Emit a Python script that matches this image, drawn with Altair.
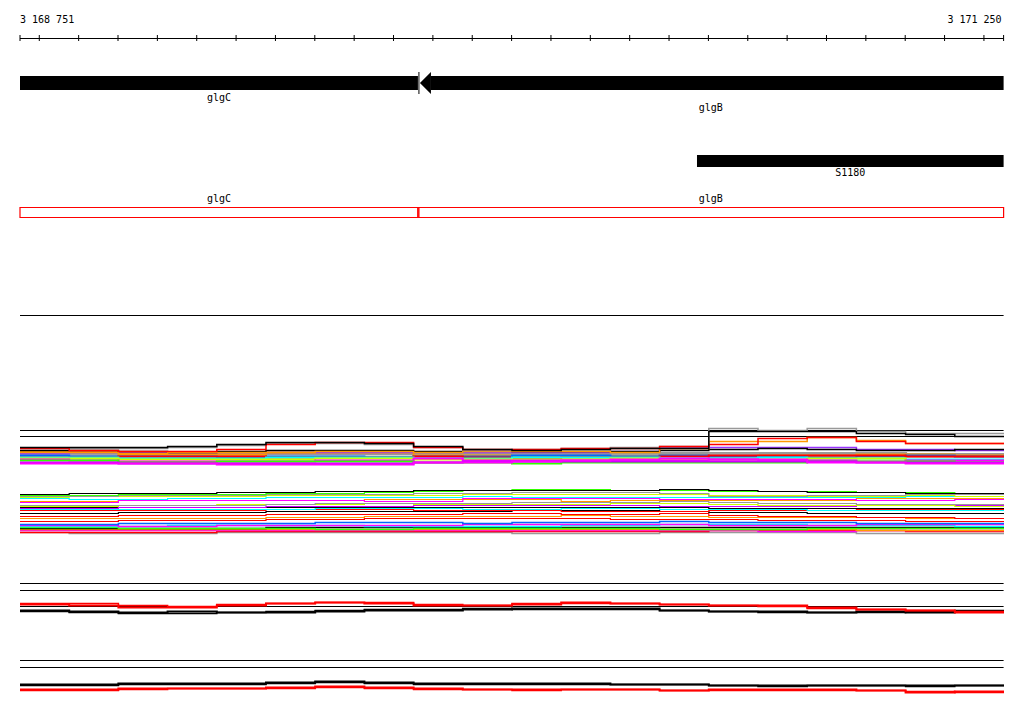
import altair as alt
import pandas as pd

# ---------------- coordinates / ruler ----------------
START = 3168751
END = 3171250
BIN = 125
bin_edges = [START + BIN * i for i in range(21)]
ruler_ticks = [START] + list(range(3168800, 3171201, 100)) + [END]
ruler_label_pos = [START, END]
ruler_labels = ["3 168 751", "3 171 250"]

# ---------------- annotation tracks ----------------
gene_names = ["glgC", "glgB"]
gene_starts = [3168751, 3169762]
gene_ends = [3169762, 3171250]

feature_names = ["S1180"]
feature_starts = [3170471]
feature_ends = [3171250]

box_names = ["glgC", "glgB"]
box_starts = [3168751, 3169762]
box_ends = [3169762, 3171250]

# ---------------- signal tracks (per 125 bp bin) ----------------
# panel 1, upper group
b1_black_top = [23, 23, 23, 24, 26, 28, 28, 27, 24, 21, 20, 21, 22, 22, 39, 39, 39, 37, 36, 34]
b1_gray_top = [22, 22, 22, 23, 25, 27, 27, 26, 23, 20, 21, 22, 23, 24, 42, 40, 42, 39, 37, 37]
b1_red_top = [22, 20, 19, 19, 21, 26, 28, 28, 23, 21, 21, 22, 22, 24, 26, 32, 33, 29, 27, 27]
b1_orange_top = [18, 18, 17, 18, 18, 18, 19, 19, 18, 19, 19, 19, 18, 22, 29, 29, 33, 30, 27, 27]
b1_black_mid = [20, 20, 19, 18, 19, 20, 20, 20, 19, 20, 19, 19, 19, 20, 21, 22, 21, 20, 20, 21]
b1_violet = [17, 18, 18, 18, 18, 18, 18, 18, 18, 18, 18, 18, 19, 23, 23, 23, 23, 21, 21, 20]
b1_gray_band = [16, 16, 17, 17, 17, 17, 17, 17, 16, 17, 17, 17, 17, 17, 17, 17, 17, 17, 16, 16]
b1_gray_low = [14, 15, 15, 15, 15, 14, 14, 14, 15, 15, 15, 14, 15, 15, 16, 15, 15, 15, 14, 14]
b1_blue = [15, 14, 14, 14, 13, 14, 14, 13, 14, 14, 15, 15, 14, 15, 14, 14, 13, 14, 15, 14]
b1_orange_mid = [19, 19, 16, 16, 16, 18, 18, 18, 15, 15, 14, 14, 14, 15, 14, 15, 15, 16, 16, 15]
b1_red_mid = [13, 13, 14, 14, 14, 13, 13, 13, 14, 13, 12, 13, 13, 14, 15, 15, 15, 15, 14, 14]
b1_cyan = [13, 13, 12, 12, 12, 13, 13, 13, 12, 12, 13, 13, 13, 12, 12, 13, 12, 12, 11, 11]
b1_ygreen = [12, 12, 11, 11, 11, 11, 12, 12, 11, 11, 11, 11, 12, 11, 11, 11, 12, 12, 8, 8]
b1_magenta = [11, 10, 9, 9, 9, 9, 10, 10, 12, 10, 10, 10, 10, 10, 11, 10, 10, 9, 10, 10]
b1_green = [10, 10, 8, 8, 9, 9, 9, 9, 8, 8, 7, 8, 8, 8, 8, 8, 9, 9, 9, 8]
b1_purple = [8, 8, 7, 7, 7, 7, 7, 7, 8, 9, 9, 9, 9, 9, 9, 9, 9, 8, 8, 8]
b1_magenta_low = [7, 7, 7, 7, 6, 6, 6, 6, 8, 8, 9, 10, 11, 12, 11, 11, 8, 8, 7, 7]

# panel 1, lower group
b2_black_top = [46, 47, 47, 47, 48, 48, 49, 49, 50, 50, 50, 50, 50, 51, 50, 49, 48, 48, 47, 47]
b2_green_top = [45, 45, 46, 46, 46, 47, 47, 48, 49, 50, 51, 51, 50, 50, 49, 49, 49, 48, 48, 47]
b2_gray_top = [44, 44, 45, 45, 45, 46, 46, 46, 47, 47, 48, 48, 48, 47, 44, 44, 45, 45, 46, 46]
b2_ygreen = [43, 44, 44, 44, 44, 45, 45, 45, 45, 46, 46, 46, 46, 46, 45, 45, 44, 44, 45, 44]
b2_cyan = [42, 41, 41, 42, 42, 43, 43, 43, 43, 44, 43, 43, 43, 43, 43, 43, 43, 43, 44, 44]
b2_magenta = [38, 38, 40, 40, 40, 40, 40, 39, 39, 42, 42, 42, 42, 41, 41, 41, 41, 40, 40, 41]
b2_orange = [39, 39, 40, 40, 40, 40, 40, 41, 41, 41, 41, 39, 40, 40, 40, 40, 40, 42, 42, 42]
b2_gray_mid = [35, 35, 35, 35, 35, 36, 37, 37, 37, 37, 38, 38, 38, 39, 38, 37, 37, 36, 36, 36]
b2_ygreen_mid = [34, 34, 35, 35, 36, 36, 36, 37, 36, 36, 36, 36, 37, 37, 36, 35, 35, 35, 35, 34]
b2_purple = [32, 32, 33, 33, 33, 34, 34, 34, 35, 35, 35, 35, 35, 34, 34, 34, 34, 35, 35, 35]
b2_black_mid = [33, 33, 33, 33, 33, 33, 33, 33, 33, 33, 33, 33, 33, 33, 32, 32, 32, 32, 32, 32]
b2_cyan_mid = [31, 31, 31, 31, 31, 31, 32, 32, 32, 31, 31, 32, 32, 31, 31, 31, 30, 30, 30, 30]
b2_red_mid = [30, 30, 30, 30, 30, 31, 31, 31, 30, 30, 30, 29, 29, 29, 30, 30, 30, 31, 31, 31]
b2_black_low = [27, 27, 28, 28, 28, 29, 29, 29, 29, 29, 30, 30, 30, 29, 28, 28, 27, 27, 27, 27]
b2_red_low = [24, 24, 25, 25, 25, 26, 26, 26, 26, 27, 27, 26, 26, 27, 25, 24, 24, 23, 23, 22]
b2_orange_low = [22, 22, 22, 22, 22, 23, 23, 24, 24, 24, 24, 25, 24, 24, 23, 23, 23, 23, 22, 22]
b2_red_low2 = [19, 19, 20, 20, 20, 21, 21, 22, 22, 22, 22, 22, 21, 21, 21, 20, 20, 20, 19, 19]
b2_blue = [16, 16, 17, 17, 17, 17, 18, 18, 18, 17, 18, 18, 18, 19, 18, 18, 18, 17, 17, 17]
b2_magenta_low = [15, 15, 14, 14, 15, 15, 15, 15, 15, 16, 16, 16, 16, 16, 15, 15, 15, 16, 16, 16]
b2_cyan_low = [14, 14, 14, 15, 15, 15, 15, 14, 14, 14, 14, 15, 15, 16, 16, 16, 15, 15, 15, 14]
b2_green_low = [13, 13, 12, 12, 12, 12, 11, 11, 12, 12, 12, 12, 12, 11, 11, 11, 12, 12, 12, 12]
b2_black_bottom = [12, 12, 12, 12, 12, 13, 13, 13, 13, 13, 13, 13, 13, 13, 13, 13, 13, 13, 13, 13]
b2_orange_bottom = [11, 11, 11, 11, 11, 11, 11, 11, 11, 11, 11, 11, 11, 11, 11, 11, 11, 10, 10, 10]
b2_magenta_bottom = [10, 10, 10, 10, 10, 10, 10, 10, 10, 10, 10, 10, 10, 10, 10, 9, 9, 10, 10, 10]
b2_red_bottom = [8, 8, 8, 8, 9, 9, 9, 9, 9, 9, 9, 9, 9, 9, 10, 10, 10, 10, 9, 9]
b2_gray_bottom = [8, 7, 7, 7, 8, 8, 8, 8, 8, 8, 7, 7, 7, 8, 8, 8, 8, 7, 7, 7]

# panel 2
t2_red_a = [16, 15, 13, 13, 15, 17, 18, 17, 15, 15, 16, 18, 17, 16, 15, 15, 13, 11, 10, 8]
t2_red_b = [17, 17, 15, 14, 16, 17, 18, 18, 16, 15, 17, 17, 17, 16, 15, 14, 12, 11, 10, 9]
t2_black_a = [10, 9, 8, 9, 8, 8, 9, 10, 10, 11, 12, 12, 12, 10, 9, 9, 8, 9, 8, 9]
t2_black_b = [9, 8, 7, 7, 8, 9, 10, 11, 11, 12, 11, 11, 11, 10, 9, 8, 8, 8, 9, 10]

# panel 3
t3_black_a = [16, 16, 17, 17, 17, 18, 19, 18, 17, 17, 17, 17, 16, 16, 15, 15, 15, 15, 15, 15]
t3_black_b = [15, 15, 16, 16, 16, 17, 18, 17, 16, 16, 16, 16, 16, 16, 15, 14, 15, 15, 14, 15]
t3_red_a = [11, 11, 12, 12, 12, 13, 14, 13, 12, 11, 11, 11, 11, 10, 11, 11, 11, 10, 8, 9]
t3_red_b = [10, 10, 11, 12, 12, 12, 13, 12, 11, 11, 10, 11, 11, 10, 10, 10, 10, 10, 9, 8]

RED, BLACK, GRAY = "#ff0000", "#000000", "#999999"
ORANGE, YGREEN, GREEN = "#ff9900", "#ccff00", "#33ff00"
CYAN, MAGENTA, PURPLE = "#00ffff", "#ff00ff", "#cc00ff"
VIOLET, BLUE = "#9933ff", "#0066ff"

group1 = [
    (b1_gray_band, GRAY, 3), (b1_gray_low, "#aaaaaa", 2), (b1_orange_mid, ORANGE, 2),
    (b1_blue, BLUE, 2), (b1_red_mid, RED, 2), (b1_cyan, CYAN, 2), (b1_ygreen, YGREEN, 2),
    (b1_magenta, MAGENTA, 2), (b1_green, GREEN, 2), (b1_purple, PURPLE, 2),
    (b1_magenta_low, MAGENTA, 2), (b1_violet, VIOLET, 1.5), (b1_black_mid, BLACK, 1.5),
    (b1_orange_top, ORANGE, 1.5), (b1_gray_top, GRAY, 1.5), (b1_red_top, RED, 1.5),
    (b1_black_top, BLACK, 1.5),
]
group2 = [
    (b2_gray_bottom, GRAY, 1.5), (b2_red_bottom, RED, 1.5), (b2_magenta_bottom, MAGENTA, 1.5),
    (b2_orange_bottom, ORANGE, 1.5), (b2_black_bottom, BLACK, 1.5), (b2_green_low, GREEN, 1.5),
    (b2_cyan_low, CYAN, 1.5), (b2_magenta_low, MAGENTA, 1.5), (b2_blue, BLUE, 1.5),
    (b2_red_low2, RED, 1.2), (b2_orange_low, ORANGE, 1.2), (b2_red_low, RED, 1.2),
    (b2_black_low, BLACK, 1.2), (b2_red_mid, RED, 1.2), (b2_cyan_mid, CYAN, 1.2),
    (b2_black_mid, BLACK, 1.2), (b2_purple, PURPLE, 1.2), (b2_ygreen_mid, YGREEN, 1.2),
    (b2_gray_mid, GRAY, 1.2), (b2_orange, ORANGE, 1.2), (b2_magenta, MAGENTA, 1.2),
    (b2_cyan, CYAN, 1.2), (b2_ygreen, YGREEN, 1.2), (b2_gray_top, GRAY, 1.2),
    (b2_green_top, GREEN, 1.2), (b2_black_top, BLACK, 1.2),
]
group3 = [(t2_black_a, BLACK, 2), (t2_black_b, BLACK, 1.5), (t2_red_a, RED, 2), (t2_red_b, RED, 1.5)]
group4 = [(t3_black_a, BLACK, 2), (t3_black_b, BLACK, 1.5), (t3_red_a, RED, 2), (t3_red_b, RED, 1.5)]

FONT = "DejaVu Sans Mono"
XS = alt.Scale(domain=[START, END + 1], nice=False, zero=False)


def xq(field):
    return alt.X(f"{field}:Q", scale=XS, axis=None)


def steps(group):
    rows = []
    for k, (vals, color, width) in enumerate(group):
        for i, pos in enumerate(bin_edges):
            rows.append({"series": f"s{k:02d}", "i": i, "pos": pos,
                         "val": vals[min(i, len(vals) - 1)], "color": color, "w": width})
    return pd.DataFrame(rows)


def signal(group, domain, rng):
    return alt.Chart(steps(group)).mark_line(interpolate="step-after").encode(
        x=xq("pos"),
        y=alt.Y("val:Q", scale=alt.Scale(domain=domain, range=rng, nice=False, zero=False), axis=None),
        color=alt.Color("color:N", scale=None),
        strokeWidth=alt.StrokeWidth("w:Q", scale=None),
        detail="series:N",
        order="i:Q",
    )


span_df = pd.DataFrame({"s": [START], "e": [END]})


def hline(y, color="black"):
    return alt.Chart(span_df).mark_rule(color=color, strokeWidth=1).encode(
        x=xq("s"), x2="e:Q", y=alt.value(y))


layers = []

# ruler
layers.append(hline(30.5))
layers.append(alt.Chart(pd.DataFrame({"pos": ruler_ticks})).mark_rule(color="black").encode(
    x=xq("pos"), y=alt.value(27), y2=alt.value(33)))
lab_df = pd.DataFrame({"pos": ruler_label_pos, "label": ruler_labels})
layers.append(alt.Chart(lab_df).transform_filter(f"datum.pos == {START}").mark_text(
    font=FONT, fontSize=10, align="left", baseline="alphabetic", color="black").encode(
    x=xq("pos"), y=alt.value(15), text="label:N"))
layers.append(alt.Chart(lab_df).transform_filter(f"datum.pos == {END}").mark_text(
    font=FONT, fontSize=10, align="right", baseline="alphabetic", color="black", dx=-2).encode(
    x=xq("pos"), y=alt.value(15), text="label:N"))

# genes
genes_df = pd.DataFrame({"gene": gene_names, "start": gene_starts, "end": gene_ends})
layers.append(alt.Chart(genes_df).transform_filter("datum.gene == 'glgC'").mark_rect(color="black").encode(
    x=xq("start"), x2="end:Q", y=alt.value(68), y2=alt.value(82)))
layers.append(alt.Chart(genes_df).transform_filter("datum.gene == 'glgB'").mark_rect(
    color="black", xOffset=13).encode(x=xq("start"), x2="end:Q", y=alt.value(68), y2=alt.value(82)))
layers.append(alt.Chart(genes_df).transform_filter("datum.gene == 'glgB'").mark_point(
    shape="M-1,0L0,-1L0,1Z", filled=True, color="black", opacity=1, size=484, xOffset=13,
    strokeWidth=0).encode(x=xq("start"), y=alt.value(75)))
layers.append(alt.Chart(genes_df).transform_filter("datum.gene == 'glgB'").mark_rule(
    color="black", xOffset=1).encode(x=xq("start"), y=alt.value(64), y2=alt.value(86)))
layers.append(alt.Chart(genes_df).transform_filter("datum.gene == 'glgC'").transform_calculate(
    mid="(datum.start + datum.end) / 2").mark_text(font=FONT, fontSize=10, baseline="alphabetic",
                                                    color="black").encode(
    x=xq("mid"), y=alt.value(93), text="gene:N"))
layers.append(alt.Chart(genes_df).transform_filter("datum.gene == 'glgB'").transform_calculate(
    mid="(datum.start + datum.end) / 2").mark_text(font=FONT, fontSize=10, baseline="alphabetic",
                                                    color="black").encode(
    x=xq("mid"), y=alt.value(103), text="gene:N"))

# S1180 feature
feat_df = pd.DataFrame({"name": feature_names, "start": feature_starts, "end": feature_ends})
layers.append(alt.Chart(feat_df).mark_rect(color="black").encode(
    x=xq("start"), x2="end:Q", y=alt.value(147), y2=alt.value(159)))
layers.append(alt.Chart(feat_df).transform_calculate(mid="(datum.start + datum.end) / 2").mark_text(
    font=FONT, fontSize=10, baseline="alphabetic", color="black").encode(
    x=xq("mid"), y=alt.value(168), text="name:N"))

# operon boxes
box_df = pd.DataFrame({"name": box_names, "start": box_starts, "end": box_ends})
layers.append(alt.Chart(box_df).mark_rect(filled=False, color="#ff0000", stroke="#ff0000",
                                          strokeWidth=1.2, fillOpacity=0, strokeOpacity=1).encode(
    x=xq("start"), x2="end:Q", y=alt.value(199.5), y2=alt.value(209.5)))
layers.append(alt.Chart(box_df).transform_filter("datum.name == 'glgB'").mark_rule(
    color="#ff0000", xOffset=1, strokeWidth=1.2).encode(x=xq("start"), y=alt.value(199.5), y2=alt.value(209.5)))
layers.append(alt.Chart(box_df).transform_calculate(mid="(datum.start + datum.end) / 2").mark_text(
    font=FONT, fontSize=10, baseline="alphabetic", color="black").encode(
    x=xq("mid"), y=alt.value(194), text="name:N"))

# separators and frame lines
for yy in [307.5, 422.5, 428.5, 575.5, 582.5, 598.5, 652.5, 659.5]:
    layers.append(hline(yy))

# signal tracks
layers.append(signal(group1, [0, 50], [462.5, 412.5]))
layers.append(signal(group2, [0, 60], [532.5, 472.5]))
layers.append(signal(group3, [0, 40], [612.5, 572.5]))
layers.append(signal(group4, [0, 40], [692.5, 652.5]))

chart = alt.layer(*layers).resolve_scale(y="independent").properties(
    width=984, height=698,
    autosize=alt.AutoSizeParams(type="none"),
    padding={"left": 12, "top": 0, "right": 12, "bottom": 0},
    background="white",
).configure_view(stroke=None)

chart.save("out.html", embed_options={"renderer": "svg", "actions": False})
